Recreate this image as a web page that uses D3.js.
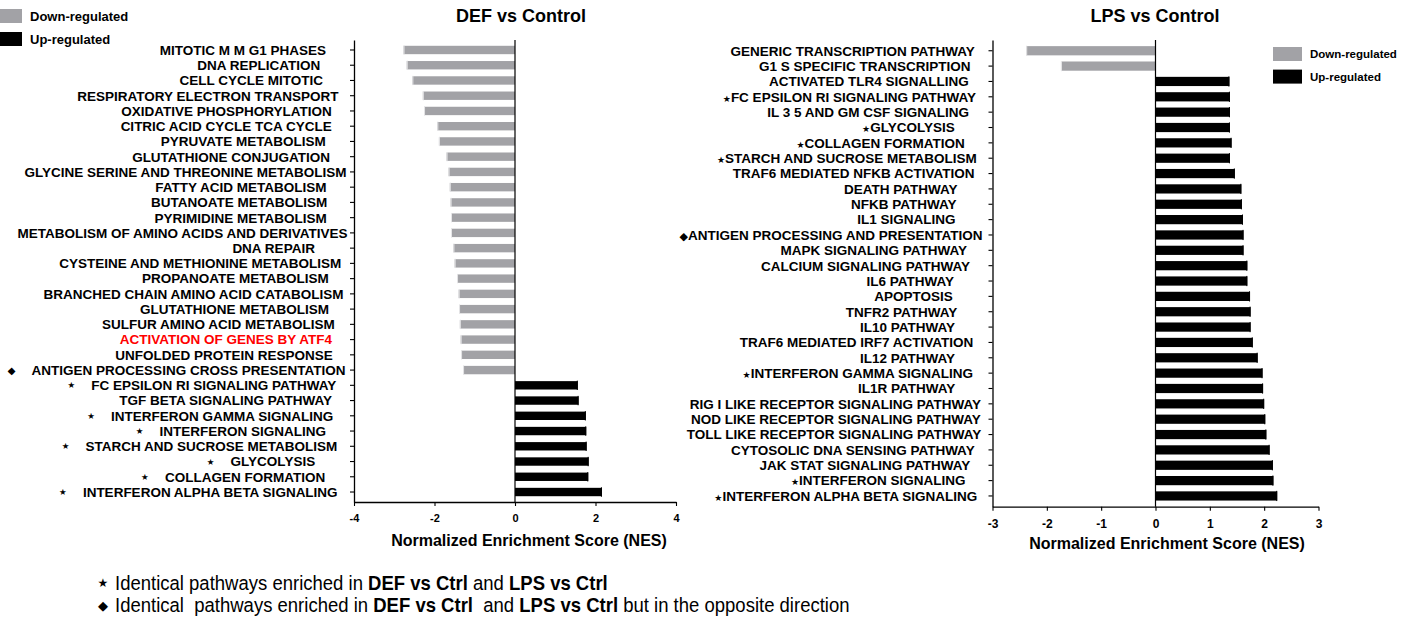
<!DOCTYPE html>
<html>
<head>
<meta charset="utf-8">
<script src="https://cdn.jsdelivr.net/npm/d3@7"></script>
<style>
  body { margin: 0; background: #fff; }
  svg text { font-family: "Liberation Sans", Arial, sans-serif; }
</style>
</head>
<body>
<div id="chart"></div>
<script>
// --------------------------------------
//  Data
// --------------------------------------

const defPathways = [
  "MITOTIC M M G1 PHASES", "DNA REPLICATION", "CELL CYCLE MITOTIC",
  "RESPIRATORY ELECTRON TRANSPORT", "OXIDATIVE PHOSPHORYLATION",
  "CITRIC ACID CYCLE TCA CYCLE", "PYRUVATE METABOLISM", "GLUTATHIONE CONJUGATION",
  "GLYCINE SERINE AND THREONINE METABOLISM", "FATTY ACID METABOLISM",
  "BUTANOATE METABOLISM", "PYRIMIDINE METABOLISM",
  "METABOLISM OF AMINO ACIDS AND DERIVATIVES", "DNA REPAIR",
  "CYSTEINE AND METHIONINE METABOLISM", "PROPANOATE METABOLISM",
  "BRANCHED CHAIN AMINO ACID CATABOLISM", "GLUTATHIONE METABOLISM",
  "SULFUR AMINO ACID METABOLISM", "ACTIVATION OF GENES BY ATF4",
  "UNFOLDED PROTEIN RESPONSE", "ANTIGEN PROCESSING CROSS PRESENTATION",
  "FC EPSILON RI SIGNALING PATHWAY", "TGF BETA SIGNALING PATHWAY",
  "INTERFERON GAMMA SIGNALING", "INTERFERON SIGNALING",
  "STARCH AND SUCROSE METABOLISM", "GLYCOLYSIS", "COLLAGEN FORMATION",
  "INTERFERON ALPHA BETA SIGNALING"
];
const defNES = [
  -2.77, -2.69, -2.55, -2.29, -2.26, -1.93, -1.89, -1.70, -1.65, -1.62,
  -1.60, -1.59, -1.59, -1.53, -1.50, -1.44, -1.40, -1.39, -1.37, -1.35,
  -1.34, -1.29, 1.56, 1.58, 1.76, 1.77, 1.78, 1.83, 1.82, 2.16
];
const defMarks = [
  "", "", "", "", "", "", "", "", "", "", "", "", "", "", "", "", "", "", "", "",
  "", "diamond", "star", "", "star", "star", "star", "star", "star", "star"
];
const defHighlight = ["ACTIVATION OF GENES BY ATF4"];
const defTicks = [-4, -2, 0, 2, 4];

const lpsPathways = [
  "GENERIC TRANSCRIPTION PATHWAY", "G1 S SPECIFIC TRANSCRIPTION",
  "ACTIVATED TLR4 SIGNALLING", "FC EPSILON RI SIGNALING PATHWAY",
  "IL 3 5 AND GM CSF SIGNALING", "GLYCOLYSIS", "COLLAGEN FORMATION",
  "STARCH AND SUCROSE METABOLISM", "TRAF6 MEDIATED NFKB ACTIVATION",
  "DEATH PATHWAY", "NFKB PATHWAY", "IL1 SIGNALING",
  "ANTIGEN PROCESSING AND PRESENTATION", "MAPK SIGNALING PATHWAY",
  "CALCIUM SIGNALING PATHWAY", "IL6 PATHWAY", "APOPTOSIS", "TNFR2 PATHWAY",
  "IL10 PATHWAY", "TRAF6 MEDIATED IRF7 ACTIVATION", "IL12 PATHWAY",
  "INTERFERON GAMMA SIGNALING", "IL1R PATHWAY",
  "RIG I LIKE RECEPTOR SIGNALING PATHWAY", "NOD LIKE RECEPTOR SIGNALING PATHWAY",
  "TOLL LIKE RECEPTOR SIGNALING PATHWAY", "CYTOSOLIC DNA SENSING PATHWAY",
  "JAK STAT SIGNALING PATHWAY", "INTERFERON SIGNALING",
  "INTERFERON ALPHA BETA SIGNALING"
];
const lpsNES = [
  -2.38, -1.74, 1.36, 1.37, 1.37, 1.37, 1.40, 1.37, 1.46, 1.58,
  1.59, 1.61, 1.62, 1.62, 1.69, 1.69, 1.74, 1.75, 1.75, 1.79,
  1.88, 1.97, 1.98, 2.00, 2.02, 2.04, 2.10, 2.16, 2.17, 2.24
];
const lpsMarks = [
  "", "", "", "star", "", "star", "star", "star", "", "", "", "", "diamond", "", "",
  "", "", "", "", "", "", "star", "", "", "", "", "", "", "star", "star"
];
const lpsTicks = [-3, -2, -1, 0, 1, 2, 3];

const legendLabels = ["Down-regulated", "Up-regulated"];

const footnotes = [
  { mark: "star", parts: [["Identical pathways enriched in ", false], ["DEF vs Ctrl", true],
      [" and ", false], ["LPS vs Ctrl", true]] },
  { mark: "diamond", parts: [["Identical  pathways enriched in ", false], ["DEF vs Ctrl", true],
      ["  and ", false], ["LPS vs Ctrl", true], [" but in the opposite direction", false]] }
];

// --------------------------------------
//  Canvas
// --------------------------------------

const width = 1413;
const height = 625;
const grey = "#a2a2a6";
const glyphs = { star: "\u2605", diamond: "\u25C6" };

const svg = d3.select("#chart")
  .append("svg")
    .attr("width", width)
    .attr("height", height)
    .attr("viewBox", `0 0 ${width} ${height}`);

// --------------------------------------
//  One bar panel
// --------------------------------------

function drawPanel(cfg) {

  const x = d3.scaleLinear()
    .domain(cfg.domain)
    .range(cfg.xRange);

  const y = d3.scaleBand()
    .domain(cfg.pathways)
    .range(cfg.yRange)
    .paddingInner(cfg.padInner)
    .paddingOuter(cfg.padOuter);

  const rows = cfg.pathways.map((p, i) => ({ p: p, v: cfg.nes[i], m: cfg.marks[i] }));

  const g = svg.append("g");

  // bars
  g.selectAll("rect.bar")
    .data(rows)
    .join("rect")
      .attr("class", "bar")
      .attr("x", d => x(Math.min(0, d.v)))
      .attr("y", d => y(d.p))
      .attr("width", d => Math.abs(x(d.v) - x(0)))
      .attr("height", y.bandwidth())
      .attr("fill", d => d.v < 0 ? grey : "#000");

  // little caps at the bar ends
  g.selectAll("line.cap")
    .data(rows)
    .join("line")
      .attr("class", "cap")
      .attr("x1", d => x(d.v) + (d.v < 0 ? 0.5 : -0.5))
      .attr("x2", d => x(d.v) + (d.v < 0 ? 0.5 : -0.5))
      .attr("y1", d => y(d.p) - 0.5)
      .attr("y2", d => y(d.p) + y.bandwidth() + 0.5)
      .attr("stroke", d => d.v < 0 ? "#e6e6e8" : "#000")
      .attr("stroke-width", 1);

  // zero line
  g.append("line")
    .attr("x1", x(0)).attr("x2", x(0))
    .attr("y1", cfg.yRange[0]).attr("y2", cfg.yRange[1])
    .attr("stroke", "#000")
    .attr("stroke-width", 1.2);

  // y axis (ticks only, labels drawn below)
  const yAxis = g.append("g")
    .attr("transform", `translate(${cfg.xRange[0]}, 0)`)
    .call(d3.axisLeft(y).tickSize(4).tickSizeOuter(0).tickFormat(""));

  // x axis
  const xAxis = g.append("g")
    .attr("transform", `translate(0, ${cfg.yRange[1]})`)
    .call(d3.axisBottom(x)
      .tickValues(cfg.ticks)
      .tickSize(4)
      .tickSizeOuter(0)
      .tickFormat(d => String(d)));

  [yAxis, xAxis].forEach(a => {
    a.select(".domain").attr("stroke", "#000").attr("stroke-width", 1.3);
    a.selectAll(".tick line").attr("stroke", "#000").attr("stroke-width", 1.1);
  });
  xAxis.selectAll(".tick text")
    .attr("y", cfg.tickLabelDy)
    .attr("fill", "#000")
    .style("font-family", "'Liberation Sans', Arial, sans-serif")
    .style("font-weight", "bold")
    .style("font-size", cfg.tickFont);

  // category labels
  const labels = g.selectAll("text.lab")
    .data(rows)
    .join("text")
      .attr("class", "lab")
      .attr("y", d => y(d.p) + y.bandwidth() / 2)
      .attr("dy", "0.36em")
      .attr("text-anchor", "end")
      .style("font-weight", "bold")
      .style("font-size", "13.5px")
      .attr("fill", d => cfg.highlight.includes(d.p) ? "#ff0000" : "#000");

  labels.each(function(d) {
    const t = d3.select(this);
    if (cfg.inlineMarks && d.m) {
      t.append("tspan")
        .style("font-family", "'DejaVu Sans', sans-serif")
        .style("font-size", d.m === "star" ? "9px" : "11px")
        .style("font-weight", "normal")
        .text(glyphs[d.m]);
    }
    t.append("tspan").text(d.p);
  });

  // Prism-style placement: longer labels sit a little further right
  labels.each(function(d) {
    const w = this.getComputedTextLength();
    const xEnd = cfg.xRange[0] - 50 + 0.132 * w;
    d3.select(this).attr("x", xEnd);
    if (!cfg.inlineMarks && d.m) {
      g.append("text")
        .attr("x", xEnd - w - 20)
        .attr("y", y(d.p) + y.bandwidth() / 2)
        .attr("dy", "0.36em")
        .attr("text-anchor", "middle")
        .style("font-family", "'DejaVu Sans', sans-serif")
        .style("font-size", d.m === "star" ? "8.5px" : "10px")
        .text(glyphs[d.m]);
    }
  });

  // title
  svg.append("text")
    .attr("x", cfg.titleX)
    .attr("y", 22)
    .attr("text-anchor", "middle")
    .style("font-weight", "bold")
    .style("font-size", "18px")
    .text(cfg.title);

  // axis title
  svg.append("text")
    .attr("x", cfg.axisTitle[0])
    .attr("y", cfg.axisTitle[1])
    .attr("text-anchor", "middle")
    .style("font-weight", "bold")
    .style("font-size", "16px")
    .text("Normalized Enrichment Score (NES)");
}

drawPanel({
  pathways: defPathways, nes: defNES, marks: defMarks, highlight: defHighlight,
  domain: [-4, 4], xRange: [354, 676], yRange: [40, 502],
  padInner: 0.45, padOuter: 0.38, ticks: defTicks,
  tickFont: "11px", tickLabelDy: 12, inlineMarks: false,
  title: "DEF vs Control", titleX: 521, axisTitle: [529, 546]
});

drawPanel({
  pathways: lpsPathways, nes: lpsNES, marks: lpsMarks, highlight: [],
  domain: [-3, 3], xRange: [992.5, 1318.5], yRange: [40, 506.7],
  padInner: 0.4, padOuter: 0.4, ticks: lpsTicks,
  tickFont: "12px", tickLabelDy: 13, inlineMarks: true,
  title: "LPS vs Control", titleX: 1155, axisTitle: [1167, 549]
});

// --------------------------------------
//  Legends
// --------------------------------------

function drawLegend(x0, y0, boxW, step, fontSize) {
  const lg = svg.append("g").attr("transform", `translate(${x0}, ${y0})`);
  legendLabels.forEach((lab, i) => {
    lg.append("rect")
      .attr("x", 0).attr("y", i * step)
      .attr("width", boxW).attr("height", 14)
      .attr("fill", i === 0 ? grey : "#000");
    lg.append("text")
      .attr("x", boxW + 8).attr("y", i * step + 7)
      .attr("dy", "0.36em")
      .style("font-weight", "bold")
      .style("font-size", fontSize)
      .text(lab);
  });
}
drawLegend(0, 9, 22, 23, "13px");
drawLegend(1273, 47, 29, 22.6, "11.5px");

// --------------------------------------
//  Footnotes
// --------------------------------------

footnotes.forEach((f, i) => {
  const yy = 583 + i * 22;
  svg.append("text")
    .attr("x", 103).attr("y", yy)
    .attr("dy", "0.36em")
    .attr("text-anchor", "middle")
    .style("font-family", "'DejaVu Sans', sans-serif")
    .style("font-size", f.mark === "star" ? "12px" : "13px")
    .text(glyphs[f.mark]);

  const t = svg.append("text")
    .attr("transform", `translate(115, ${yy}) scale(0.95, 1)`)
    .attr("dy", "0.36em")
    .style("font-size", "19.5px")
    .style("white-space", "pre");
  f.parts.forEach(p => {
    t.append("tspan")
      .style("font-weight", p[1] ? "bold" : "normal")
      .text(p[0]);
  });
});
</script>
</body>
</html>
